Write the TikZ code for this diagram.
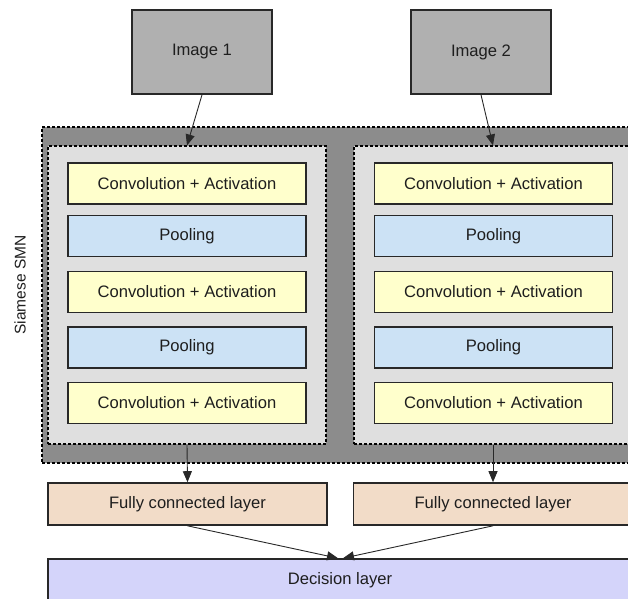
\documentclass[tikz,border=0pt]{standalone}
\usepackage{fontspec}
\setmainfont{Liberation Sans}
\usetikzlibrary{arrows.meta}

\definecolor{imgfill}{RGB}{176,176,176}
\definecolor{outerfill}{RGB}{140,140,140}
\definecolor{innerfill}{RGB}{223,223,223}
\definecolor{convfill}{RGB}{255,255,204}
\definecolor{poolfill}{RGB}{204,226,245}
\definecolor{fcfill}{RGB}{242,220,200}
\definecolor{decfill}{RGB}{212,212,250}
\definecolor{edge}{RGB}{40,40,40}
\definecolor{txt}{RGB}{30,30,30}

\tikzset{
  box/.style={draw=edge, line width=1.6pt, rectangle, inner sep=0pt,
    text=txt, font=\fontsize{16.6}{19}\selectfont, anchor=center},
  imagebox/.style={box, fill=imgfill, minimum width=140pt, minimum height=84pt},
  layerbox/.style={box, minimum width=238pt, minimum height=41pt},
  convbox/.style={layerbox, fill=convfill},
  poolbox/.style={layerbox, fill=poolfill},
  fcbox/.style={box, fill=fcfill, minimum width=279pt, minimum height=42pt},
  decbox/.style={box, fill=decfill, minimum width=584pt, minimum height=42pt},
  groupbox/.style={draw=black, line width=1.1pt, dash pattern=on 3pt off 2pt,
    rectangle, inner sep=0pt},
  flow/.style={draw=edge, line width=0.9pt,
    -{Triangle[length=11pt, width=9pt]}},
}

\begin{document}
\begin{tikzpicture}[x=1pt, y=-1pt]
  \useasboundingbox (0,0) rectangle (628,598);
  \clip (0,0) rectangle (628,598);

  % inputs
  \node[imagebox] (img1) at (202,52) {Image 1};
  \node[imagebox] (img2) at (481,52) {Image 2};

  % shared (siamese) block and its two branches
  \node[groupbox, fill=outerfill, minimum width=596pt, minimum height=336pt]
    (outer) at (340,295) {};
  \node[groupbox, fill=innerfill, minimum width=278pt, minimum height=298pt]
    (inner1) at (187,295) {};
  \node[groupbox, fill=innerfill, minimum width=278pt, minimum height=298pt]
    (inner2) at (493,295) {};

  \node[rotate=90, text=txt, font=\fontsize{15.5}{18}\selectfont]
    (siam) at (20,285) {Siamese SMN};

  % left branch
  \node[convbox] (c11) at (187,183.5) {Convolution + Activation};
  \node[poolbox] (p11) at (187,236)   {Pooling};
  \node[convbox] (c12) at (187,292)   {Convolution + Activation};
  \node[poolbox] (p12) at (187,347.5) {Pooling};
  \node[convbox] (c13) at (187,403)   {Convolution + Activation};

  % right branch
  \node[convbox] (c21) at (493.5,183.5) {Convolution + Activation};
  \node[poolbox] (p21) at (493.5,236)   {Pooling};
  \node[convbox] (c22) at (493.5,292)   {Convolution + Activation};
  \node[poolbox] (p22) at (493.5,347.5) {Pooling};
  \node[convbox] (c23) at (493.5,403)   {Convolution + Activation};

  % heads
  \node[fcbox] (fc1) at (187.5,504) {Fully connected layer};
  \node[fcbox] (fc2) at (493,504)   {Fully connected layer};
  \node[decbox] (dec) at (340,580)  {Decision layer};

  % connectors
  \draw[flow] (img1.south) -- (inner1.north);
  \draw[flow] (img2.south) -- (inner2.north);
  \draw[flow] (inner1.south) -- (fc1.north);
  \draw[flow] (inner2.south) -- (fc2.north);
  \draw[flow] (fc1.south) -- ([xshift=-2pt]dec.north);
  \draw[flow] (fc2.south) -- ([xshift=3pt]dec.north);
\end{tikzpicture}
\end{document}
